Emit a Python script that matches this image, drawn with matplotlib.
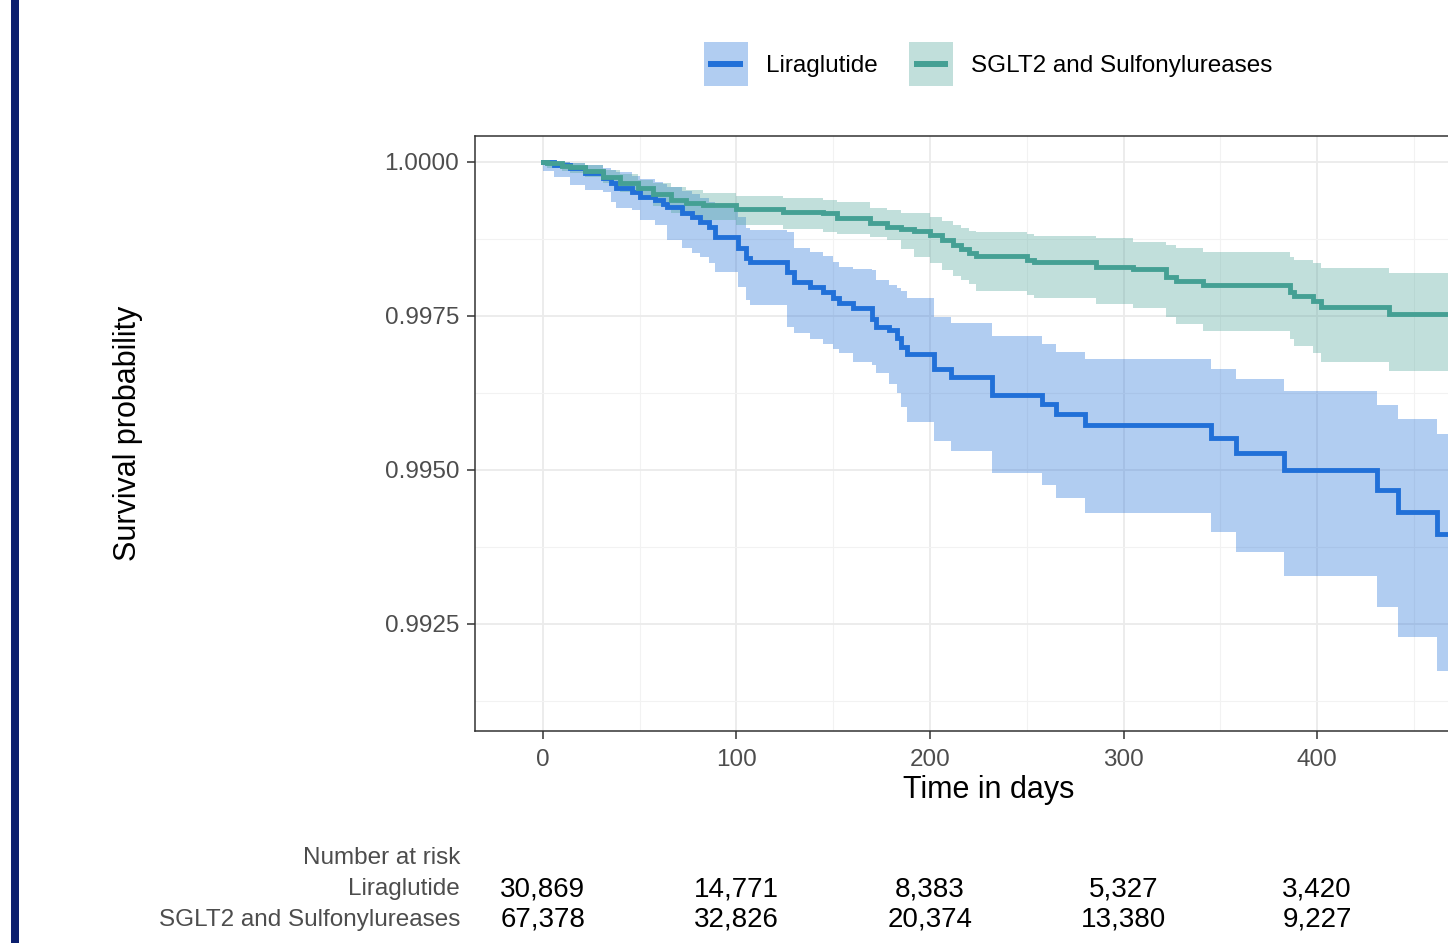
import matplotlib
matplotlib.use("Agg")
import matplotlib.pyplot as plt
import matplotlib.transforms as mtransforms
from matplotlib.patches import Patch, Rectangle
from matplotlib.lines import Line2D

plt.rcParams['font.family'] = ['Liberation Sans', 'DejaVu Sans']

# ---------------- data ----------------
groups = ["Liraglutide", "SGLT2 and Sulfonylureases"]

lira_t = [0, 6, 14, 22, 31, 35, 38, 46, 50, 58, 62, 64, 72, 77, 81, 86, 89, 101, 105, 107,
          126, 130, 138, 145, 150, 153, 160, 170, 172, 179, 183, 185, 188, 202, 211, 232,
          258, 265, 280, 345, 358, 383, 431, 442, 462, 490]
lira_s = [1.00000, 0.99995, 0.99990, 0.99982, 0.99974, 0.99966, 0.99958, 0.99952, 0.99943,
          0.99938, 0.99932, 0.99927, 0.99917, 0.99910, 0.99903, 0.99894, 0.99878, 0.99860,
          0.99844, 0.99838, 0.99821, 0.99805, 0.99797, 0.99789, 0.99779, 0.99771, 0.99763,
          0.99745, 0.99732, 0.99727, 0.99715, 0.99700, 0.99688, 0.99664, 0.99651, 0.99622,
          0.99607, 0.99591, 0.99573, 0.99552, 0.99528, 0.99500, 0.99468, 0.99432, 0.99396,
          0.99396]
lira_hi = [1.00000, 1.00000, 0.99998, 0.99995, 0.99990, 0.99987, 0.99983, 0.99978, 0.99972,
           0.99968, 0.99964, 0.99960, 0.99953, 0.99948, 0.99942, 0.99935, 0.99925, 0.99910,
           0.99893, 0.99890, 0.99886, 0.99860, 0.99854, 0.99848, 0.99838, 0.99830, 0.99826,
           0.99825, 0.99808, 0.99800, 0.99795, 0.99790, 0.99780, 0.99748, 0.99739, 0.99718,
           0.99705, 0.99692, 0.99680, 0.99664, 0.99648, 0.99628, 0.99606, 0.99583, 0.99558,
           0.99558]
lira_lo = [0.99985, 0.99976, 0.99962, 0.99955, 0.99951, 0.99935, 0.99925, 0.99922, 0.99906,
           0.99898, 0.99898, 0.99873, 0.99860, 0.99852, 0.99845, 0.99836, 0.99821, 0.99797,
           0.99776, 0.99768, 0.99732, 0.99722, 0.99712, 0.99704, 0.99696, 0.99690, 0.99675,
           0.99670, 0.99657, 0.99640, 0.99625, 0.99602, 0.99578, 0.99547, 0.99531, 0.99495,
           0.99476, 0.99455, 0.99430, 0.99399, 0.99367, 0.99328, 0.99278, 0.99229, 0.99174,
           0.99174]

sglt_t = [0, 2, 10, 14, 22, 31, 40, 49, 57, 66, 74, 83, 100, 124, 145, 152, 169, 178, 185,
          192, 200, 206, 212, 216, 220, 224, 250, 254, 286, 305, 322, 327, 341, 386, 388,
          398, 402, 437, 490]
sglt_s = [1.00000, 0.99998, 0.99994, 0.99992, 0.99985, 0.99976, 0.99966, 0.99958, 0.99948,
          0.99938, 0.99933, 0.99930, 0.99924, 0.99919, 0.99917, 0.99909, 0.99901, 0.99894,
          0.99891, 0.99888, 0.99881, 0.99873, 0.99865, 0.99858, 0.99852, 0.99847, 0.99841,
          0.99838, 0.99830, 0.99826, 0.99813, 0.99807, 0.99800, 0.99789, 0.99782, 0.99774,
          0.99765, 0.99753, 0.99753]
sglt_hi = [1.00000, 1.00000, 1.00000, 0.99998, 0.99995, 0.99987, 0.99980, 0.99971, 0.99966,
           0.99960, 0.99955, 0.99949, 0.99945, 0.99942, 0.99938, 0.99935, 0.99925, 0.99922,
           0.99917, 0.99917, 0.99911, 0.99905, 0.99898, 0.99893, 0.99888, 0.99886, 0.99883,
           0.99880, 0.99877, 0.99870, 0.99865, 0.99860, 0.99854, 0.99846, 0.99841, 0.99836,
           0.99828, 0.99820, 0.99820]
sglt_lo = [0.99995, 0.99990, 0.99985, 0.99982, 0.99976, 0.99966, 0.99952, 0.99938, 0.99928,
           0.99917, 0.99912, 0.99906, 0.99898, 0.99891, 0.99886, 0.99883, 0.99878, 0.99873,
           0.99859, 0.99846, 0.99836, 0.99825, 0.99815, 0.99808, 0.99802, 0.99791, 0.99784,
           0.99779, 0.99769, 0.99763, 0.99748, 0.99737, 0.99726, 0.99713, 0.99701, 0.99690,
           0.99675, 0.99661, 0.99661]

risk_times = [0, 100, 200, 300, 400]
risk_lira = ["30,869", "14,771", "8,383", "5,327", "3,420"]
risk_sglt = ["67,378", "32,826", "20,374", "13,380", "9,227"]

x_ticks = [0, 100, 200, 300, 400]
y_ticks = [0.9925, 0.9950, 0.9975, 1.0000]

col_lira = "#2170D8"
col_sglt = "#45A094"
fill_lira = (0x21 / 255, 0x70 / 255, 0xD8 / 255, 0.35)
fill_sglt = (0x45 / 255, 0xA0 / 255, 0x94 / 255, 0.33)

# ---------------- figure ----------------
W, H = 1448, 943
fig = plt.figure(figsize=(W / 100, H / 100), dpi=100)

def fx(px):
    return px / W

def fy(py):
    return 1 - py / H

ax_l, ax_r, ax_t, ax_b = 475, 1503, 136, 731
ax = fig.add_axes([fx(ax_l), fy(ax_b), (ax_r - ax_l) / W, (ax_b - ax_t) / H])

# grid
ax.set_xticks(x_ticks)
ax.set_xticks([50, 150, 250, 350, 450], minor=True)
ax.set_yticks(y_ticks)
ax.set_yticks([0.99125, 0.99375, 0.99625, 0.99875], minor=True)
ax.set_xlim(-35, 496)
ax.set_ylim(0.990763, 1.000422)
ax.grid(which='major', color='#EBEBEB', lw=1.3)
ax.grid(which='minor', color='#F2F2F2', lw=0.8)
ax.set_axisbelow(True)
ax.tick_params(which='minor', length=0)
ax.tick_params(which='major', length=5.5, width=1.1, color='#333333',
               labelsize=17.5, labelcolor='#4D4D4D')
ax.tick_params(axis='x', pad=7.5)
ax.tick_params(axis='y', pad=6)
ax.set_yticklabels([f"{v:.4f}" for v in y_ticks])
ax.set_xticklabels([str(v) for v in x_ticks])
for s in ax.spines.values():
    s.set_color('#333333')
    s.set_linewidth(1.1)

# bands and curves
ax.fill_between(lira_t, lira_lo, lira_hi, step='post', color=fill_lira, lw=0)
ax.fill_between(sglt_t, sglt_lo, sglt_hi, step='post', color=fill_sglt, lw=0)
ax.step(lira_t, lira_s, where='post', color=col_lira, lw=3.5, solid_joinstyle='miter')
ax.step(sglt_t, sglt_s, where='post', color=col_sglt, lw=3.5, solid_joinstyle='miter')

ax.set_ylabel("Survival probability", fontsize=22, color='black')
ax.set_xlabel("Time in days", fontsize=22, color='black')
ax.yaxis.set_label_coords(fx(128), fy(433), transform=fig.transFigure)
ax.xaxis.set_label_coords(fx(989), fy(790), transform=fig.transFigure)
ax.xaxis.label.set_va('center')
ax.yaxis.label.set_va('center')


# legend: filled key box with a centred line
class KeyHandler:
    def __init__(self, fill, line):
        self.fill = fill
        self.line = line

    def legend_artist(self, legend, orig_handle, fontsize, handlebox):
        x0, y0 = handlebox.xdescent, handlebox.ydescent
        w, h = handlebox.width, handlebox.height
        tr = handlebox.get_transform()
        rect = Rectangle((-x0, -y0), w, h, facecolor=self.fill, edgecolor='none',
                         transform=tr)
        yc = -y0 + h / 2
        ln = Line2D([-x0 + 0.11 * w, -x0 + 0.89 * w], [yc, yc], color=self.line,
                    lw=4.3, solid_capstyle='butt', transform=tr)
        handlebox.add_artist(rect)
        handlebox.add_artist(ln)
        return rect


k1 = Patch(facecolor=fill_lira)
k2 = Patch(facecolor=fill_sglt)
fig.legend([k1, k2], groups, loc='center', bbox_to_anchor=(fx(988), fy(64)),
           handler_map={k1: KeyHandler(fill_lira, col_lira),
                        k2: KeyHandler(fill_sglt, col_sglt)},
           ncol=2, frameon=False, fontsize=17.5, handlelength=1.81, handleheight=2.35,
           handletextpad=0.74, columnspacing=1.3, borderpad=0, borderaxespad=0)

# risk table
trans = mtransforms.blended_transform_factory(ax.transData, fig.transFigure)
fig.text(fx(460), fy(858), "Number at risk", ha='right', va='center', fontsize=17.5, color='#4D4D4D')
fig.text(fx(460), fy(889), groups[0], ha='right', va='center', fontsize=17.5, color='#4D4D4D')
fig.text(fx(460), fy(920), groups[1], ha='right', va='center', fontsize=17.5, color='#4D4D4D')
for t, a, b in zip(risk_times, risk_lira, risk_sglt):
    ax.text(t, fy(889), a, transform=trans, ha='center', va='center', fontsize=20,
            color='black', clip_on=False)
    ax.text(t, fy(920), b, transform=trans, ha='center', va='center', fontsize=20,
            color='black', clip_on=False)

# left navy bar
fig.patches.append(Rectangle((fx(11), 0), fx(8), 1, transform=fig.transFigure,
                             facecolor='#0B1F6E', edgecolor='none', zorder=10))

fig.savefig("out.png", dpi=100)
